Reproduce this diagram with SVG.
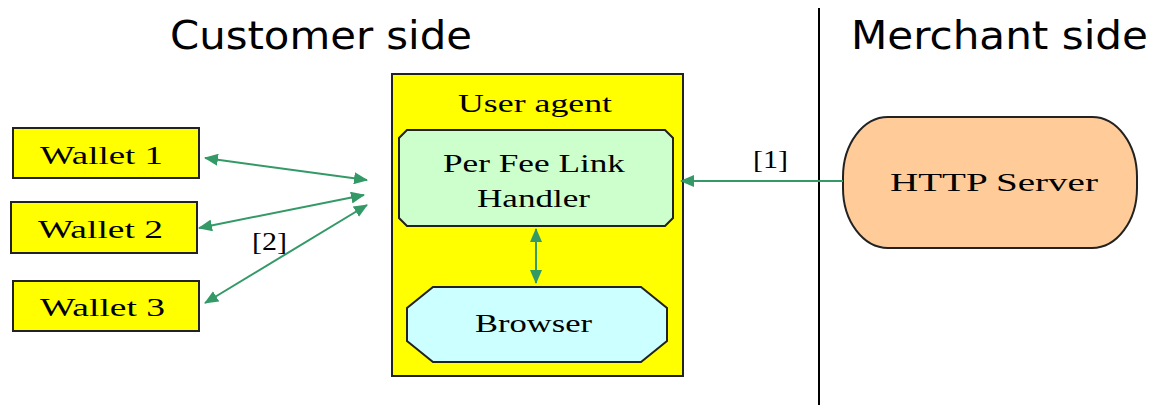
<svg xmlns="http://www.w3.org/2000/svg" width="1151" height="405" viewBox="0 0 1151 405">
<style>
.title{font-family:"DejaVu Sans",Tahoma,sans-serif;font-stretch:condensed;font-size:39px;fill:#000}
.lbl{font-family:"Liberation Serif","Times New Roman",serif;font-size:26px;fill:#000}
.box{stroke:#222;stroke-width:2}
.conn{stroke:#339966;stroke-width:2;fill:none}
</style>
<defs>
<marker id="ah" viewBox="0 0 14 12" refX="13" refY="6" markerWidth="14" markerHeight="12" markerUnits="userSpaceOnUse" orient="auto-start-reverse">
<path d="M0,0 L14,6 L0,12 Z" fill="#339966"/>
</marker>
</defs>
<rect width="1151" height="405" fill="#fff"/>
<g id="titles">
<text class="title" x="170" y="49" textLength="302" lengthAdjust="spacingAndGlyphs">Customer side</text>
<text class="title" x="851" y="49" textLength="297" lengthAdjust="spacingAndGlyphs">Merchant side</text>
</g>
<g id="divider"><line x1="819" y1="8" x2="819" y2="405" stroke="#000" stroke-width="2"/></g>
<g id="wallet1"><rect class="box" x="13" y="128" width="186" height="50" fill="#ffff00"/><text class="lbl" x="40" y="164" textLength="123" lengthAdjust="spacingAndGlyphs">Wallet  1</text></g>
<g id="wallet2"><rect class="box" x="11" y="202" width="186" height="51" fill="#ffff00"/><text class="lbl" x="38" y="238" textLength="125" lengthAdjust="spacingAndGlyphs">Wallet  2</text></g>
<g id="wallet3"><rect class="box" x="13" y="281" width="186" height="50" fill="#ffff00"/><text class="lbl" x="40" y="316" textLength="125" lengthAdjust="spacingAndGlyphs">Wallet  3</text></g>
<g id="useragent"><rect class="box" x="392" y="74" width="291" height="302" fill="#ffff00"/><text class="lbl" x="458" y="112" textLength="154" lengthAdjust="spacingAndGlyphs">User agent</text></g>
<g id="handler"><path class="box" d="M407,130 L665,130 L673,138 L673,218 L665,226 L407,226 L399,218 L399,138 Z" fill="#ccffcc"/>
<text class="lbl" x="443" y="172" textLength="182" lengthAdjust="spacingAndGlyphs">Per Fee Link</text>
<text class="lbl" x="477" y="207" textLength="113" lengthAdjust="spacingAndGlyphs">Handler</text></g>
<g id="browser"><path class="box" d="M433,287 L641,287 L667,308 L667,341 L641,362 L433,362 L407,341 L407,308 Z" fill="#ccffff"/>
<text class="lbl" x="475" y="332" textLength="117" lengthAdjust="spacingAndGlyphs">Browser</text></g>
<g id="httpserver"><rect class="box" x="843" y="117" width="294" height="131" rx="45" ry="60" fill="#ffcc99"/>
<text class="lbl" x="890" y="191" textLength="208" lengthAdjust="spacingAndGlyphs">HTTP Server</text></g>
<g id="connectors">
<line class="conn" x1="843" y1="181" x2="681" y2="181" marker-end="url(#ah)"/>
<line class="conn" x1="536" y1="229" x2="536" y2="283" marker-start="url(#ah)" marker-end="url(#ah)"/>
<line class="conn" x1="205" y1="158" x2="367" y2="180" marker-start="url(#ah)" marker-end="url(#ah)"/>
<line class="conn" x1="199" y1="228" x2="364" y2="195" marker-start="url(#ah)" marker-end="url(#ah)"/>
<line class="conn" x1="205" y1="303" x2="367" y2="205" marker-start="url(#ah)" marker-end="url(#ah)"/>
<text class="lbl" x="753" y="168" textLength="35" lengthAdjust="spacingAndGlyphs">[1]</text>
<text class="lbl" x="252" y="250" textLength="35" lengthAdjust="spacingAndGlyphs">[2]</text>
</g>
</svg>
